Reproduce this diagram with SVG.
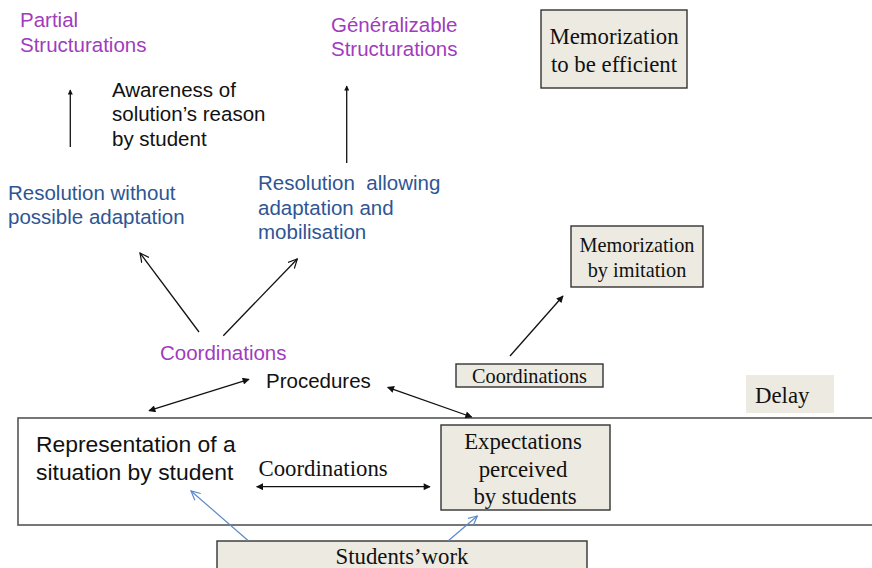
<svg xmlns="http://www.w3.org/2000/svg" width="872" height="568" viewBox="0 0 872 568">
  <style>
    .sans { font-family: "Liberation Sans", Arial, sans-serif; font-size: 20.5px; }
    .serif { font-family: "Liberation Serif", "Times New Roman", serif; font-size: 22.8px; fill: #111; }
    .purple { fill: #a03cbe; }
    .blue { fill: #2f5593; }
    .black { fill: #111; }
    .box { fill: #edebe1; stroke: #333; stroke-width: 1.4; }
    .frame { fill: none; stroke: #555; stroke-width: 1.6; }
    .line { stroke: #111; stroke-width: 1.3; fill: none; }
    .bline { stroke: #5a8ac8; stroke-width: 1.2; fill: none; }
  </style>
  <defs>
    <marker id="solid" viewBox="0 0 10 10" refX="9" refY="5" markerWidth="8" markerHeight="7" markerUnits="userSpaceOnUse" orient="auto-start-reverse">
      <path d="M0,0 L10,5 L0,10 Z" fill="#111"/>
    </marker>
    <marker id="tiny" viewBox="0 0 10 10" refX="9" refY="5" markerWidth="7" markerHeight="5" markerUnits="userSpaceOnUse" orient="auto">
      <path d="M0,0 L10,5 L0,10 Z" fill="#111"/>
    </marker>
    <marker id="open" viewBox="0 0 10 10" refX="9" refY="5" markerWidth="10" markerHeight="10" markerUnits="userSpaceOnUse" orient="auto">
      <path d="M0,0.5 L9,5 L0,9.5" fill="none" stroke="#111" stroke-width="1.2"/>
    </marker>
    <marker id="openBlue" viewBox="0 0 10 10" refX="9" refY="5" markerWidth="10" markerHeight="10" markerUnits="userSpaceOnUse" orient="auto">
      <path d="M0,0.5 L9,5 L0,9.5" fill="none" stroke="#5a8ac8" stroke-width="1.2"/>
    </marker>
  </defs>

  <rect x="0" y="0" width="872" height="568" fill="#ffffff"/>

  <!-- situation frame -->
  <rect id="frame" class="frame" x="18" y="418" width="870" height="107"/>

  <g id="partial">
    <text class="sans purple" x="20" y="27">Partial</text>
    <text class="sans purple" x="20" y="52">Structurations</text>
  </g>

  <g id="awareness">
    <text class="sans black" x="112" y="97">Awareness of</text>
    <text class="sans black" x="112" y="121">solution’s reason</text>
    <text class="sans black" x="112" y="146">by student</text>
  </g>

  <g id="generalizable">
    <text class="sans purple" x="331" y="32">Généralizable</text>
    <text class="sans purple" x="331" y="56">Structurations</text>
  </g>

  <g id="mem-efficient">
    <rect class="box" x="541" y="10" width="146" height="78"/>
    <text class="serif" x="614" y="44" text-anchor="middle">Memorization</text>
    <text class="serif" x="614" y="72" text-anchor="middle">to be efficient</text>
  </g>

  <g id="res-without">
    <text class="sans blue" x="8" y="200">Resolution without</text>
    <text class="sans blue" x="8" y="224">possible adaptation</text>
  </g>

  <g id="res-allowing">
    <text class="sans blue" x="258" y="190" xml:space="preserve">Resolution  allowing</text>
    <text class="sans blue" x="258" y="215">adaptation and</text>
    <text class="sans blue" x="258" y="239">mobilisation</text>
  </g>

  <g id="mem-imitation">
    <rect class="box" x="571" y="226" width="132" height="61"/>
    <text class="serif" x="637" y="252" text-anchor="middle" style="font-size:20.3px">Memorization</text>
    <text class="serif" x="637" y="277" text-anchor="middle" style="font-size:20.3px">by imitation</text>
  </g>

  <g id="coord-purple">
    <text class="sans purple" x="160" y="360">Coordinations</text>
  </g>

  <g id="procedures">
    <text class="sans black" x="266" y="388">Procedures</text>
  </g>

  <g id="coord-box">
    <rect class="box" x="456" y="364" width="147" height="23"/>
    <text class="serif" x="529.5" y="383" text-anchor="middle" style="font-size:20.3px">Coordinations</text>
  </g>

  <g id="delay">
    <rect x="746" y="375" width="88" height="38" fill="#edebe1"/>
    <text class="serif" x="755" y="403">Delay</text>
  </g>

  <g id="representation">
    <text class="sans black" x="36" y="452" style="font-size:22.9px">Representation of a</text>
    <text class="sans black" x="36" y="480" style="font-size:22.9px">situation by student</text>
  </g>

  <g id="coord-middle">
    <text class="serif" x="258.5" y="476">Coordinations</text>
  </g>

  <g id="expectations">
    <rect class="box" x="441" y="425" width="169" height="85"/>
    <text class="serif" x="523" y="449" text-anchor="middle">Expectations</text>
    <text class="serif" x="523" y="477" text-anchor="middle">perceived</text>
    <text class="serif" x="525" y="504" text-anchor="middle">by students</text>
  </g>

  <g id="students-work">
    <rect class="box" x="217" y="541" width="370" height="40"/>
    <text class="serif" x="402" y="564" text-anchor="middle">Students’work</text>
  </g>

  <g id="connectors">
    <line class="line" x1="70.3" y1="147" x2="70.3" y2="90" marker-end="url(#tiny)"/>
    <line class="line" x1="346.7" y1="163" x2="346.7" y2="86" marker-end="url(#tiny)"/>
    <line class="line" x1="199" y1="332" x2="140" y2="253" marker-end="url(#open)"/>
    <line class="line" x1="223.3" y1="335.7" x2="297.3" y2="259" marker-end="url(#open)"/>
    <line class="line" x1="510" y1="356" x2="563" y2="296" marker-end="url(#solid)"/>
    <line class="line" x1="149" y1="410.7" x2="249" y2="379.3" marker-start="url(#solid)" marker-end="url(#solid)"/>
    <line class="line" x1="387.7" y1="387.3" x2="471.7" y2="417" marker-start="url(#solid)" marker-end="url(#solid)"/>
    <line class="line" x1="256.7" y1="486.7" x2="430" y2="486.7" marker-start="url(#solid)" marker-end="url(#solid)"/>
    <line class="bline" x1="248.3" y1="540.7" x2="191" y2="491" marker-end="url(#openBlue)"/>
    <line class="bline" x1="448.3" y1="540.7" x2="477.3" y2="516" marker-end="url(#openBlue)"/>
  </g>
</svg>
